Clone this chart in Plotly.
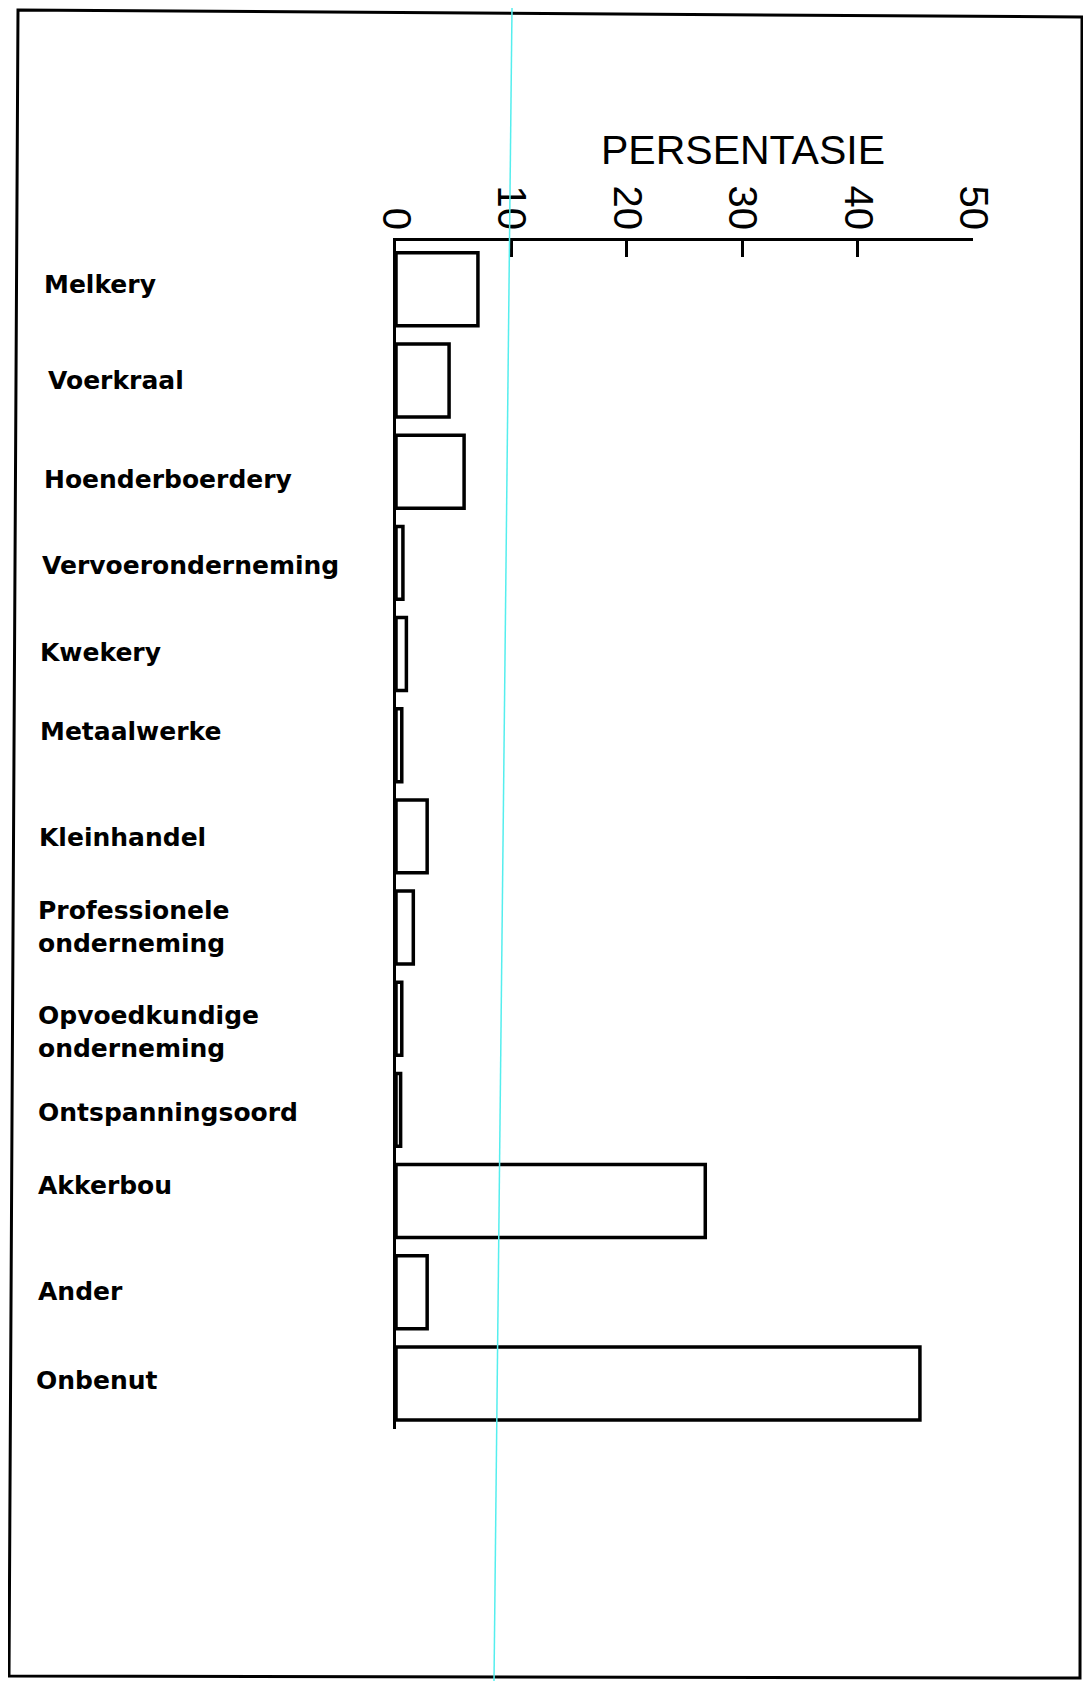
import plotly.graph_objects as go

# ---- data ----
categories = ["Melkery", "Voerkraal", "Hoenderboerdery", "Vervoeronderneming",
              "Kwekery", "Metaalwerke", "Kleinhandel",
              "Professionele<br>onderneming", "Opvoedkundige<br>onderneming",
              "Ontspanningsoord", "Akkerbou", "Ander", "Onbenut"]
values = [7.1, 4.6, 5.9, 0.6, 0.9, 0.5, 2.7, 1.5, 0.5, 0.4, 26.8, 2.7, 45.4]
tick_vals = [0, 10, 20, 30, 40, 50]
tick_text = ["0", "10", "20", "30", "40", "50"]
axis_title = "PERSENTASIE"

# ---- layout geometry (page pixels; the page body adds an 8px offset) ----
OFF = 8
PAGE_W, PAGE_H = 1091, 1681
W, H = PAGE_W - OFF, PAGE_H - OFF
PLOT_L, PLOT_R, PLOT_T, PLOT_B = 396, 973, 241, 1429   # page coords
L, T = PLOT_L - OFF, PLOT_T - OFF
R, B = W - (PLOT_R - OFF), H - (PLOT_B - OFF)
PW, PH = W - L - R, H - T - B

def px(x):
    return (x - OFF - L) / PW

def py(y):
    return 1 - (y - OFF - T) / PH

# label vertical centres (page pixels) and left edges
label_y = [284, 380, 480, 565, 652, 731, 837, 927, 1032, 1112, 1185, 1291, 1380]
label_x = [42, 46, 42, 40, 38, 38, 37, 36, 36, 36, 36, 36, 34]

idx = list(range(len(categories)))

fig = go.Figure()
fig.add_trace(go.Bar(
    x=values, y=idx, orientation="h", width=0.8,
    marker=dict(color="white", line=dict(color="black", width=3.5)),
    hoverinfo="x", showlegend=False,
))

annotations = []
for cat, lx, ly in zip(categories, label_x, label_y):
    annotations.append(dict(
        text=cat, xref="paper", yref="paper", x=px(lx), y=py(ly),
        xanchor="left", yanchor="middle", showarrow=False, align="left",
        font=dict(family="DejaVu Sans", size=25, color="black", weight="bold"),
    ))
annotations.append(dict(
    text=axis_title, xref="paper", yref="paper", x=px(743), y=py(150),
    xanchor="center", yanchor="middle", showarrow=False,
    font=dict(family="Liberation Sans", size=41, color="black"),
))

shapes = [
    # page frame
    dict(type="path", xref="paper", yref="paper",
         path=f"M {px(18)},{py(10)} L {px(1082)},{py(17)} L {px(1080)},{py(1678)} L {px(9)},{py(1676)} Z",
         line=dict(color="black", width=3), fillcolor="rgba(0,0,0,0)", layer="below"),
    # scan artefact cyan line
    dict(type="line", xref="paper", yref="paper",
         x0=px(512), y0=py(OFF), x1=px(494), y1=py(PAGE_H),
         line=dict(color="#55eeee", width=1.5), layer="above"),
]

fig.update_layout(
    width=W, height=H,
    margin=dict(l=L, r=R, t=T, b=B, pad=0),
    paper_bgcolor="white", plot_bgcolor="white",
    annotations=annotations, shapes=shapes,
    bargap=0.2,
)
fig.update_xaxes(
    side="top", range=[0, 50], tickvals=tick_vals, ticktext=tick_text,
    tickangle=90, tickfont=dict(family="Liberation Sans", size=40, color="black"),
    ticklabelstandoff=-6,
    ticks="inside", ticklen=16, tickwidth=3, tickcolor="black",
    showline=True, linecolor="black", linewidth=3, showgrid=False, zeroline=False,
)
fig.update_yaxes(
    range=[12.5, -0.53], showticklabels=False, ticks="",
    showline=True, linecolor="black", linewidth=3, showgrid=False, zeroline=False,
)

fig.write_html("out.html")
